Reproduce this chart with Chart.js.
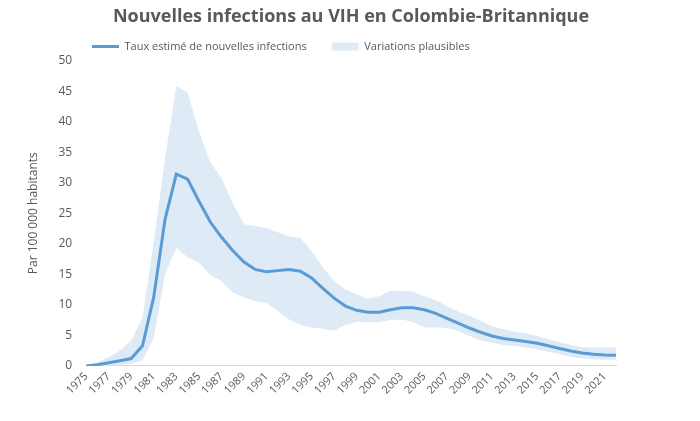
<!DOCTYPE html>
<html>
<head>
<meta charset="utf-8">
<script src="https://cdn.jsdelivr.net/npm/chart.js@4.4.0/dist/chart.umd.min.js"></script>
<style>
  html, body { margin: 0; padding: 0; background: #fff; }
  #wrap { width: 700px; height: 421px; }
</style>
</head>
<body>
<div id="wrap"><canvas id="hivChart"></canvas></div>
<script>
const years = [];
for (let y = 1975; y <= 2022; y++) years.push(String(y));

// estimated rate per 100 000
const rate = [
  0, 0.2, 0.5, 0.85, 1.2, 3.3, 11.3, 24, 31.4, 30.6,
  27, 23.6, 21.1, 18.9, 17.0, 15.8, 15.4, 15.6, 15.8, 15.5,
  14.4, 12.7, 11.1, 9.8, 9.1, 8.8, 8.8, 9.2, 9.5, 9.5,
  9.2, 8.6, 7.8, 7.0, 6.2, 5.5, 4.9, 4.5, 4.25, 4.0,
  3.7, 3.3, 2.85, 2.45, 2.1, 1.9, 1.8, 1.75
];
// plausible range
const upper = [
  0.1, 0.6, 1.4, 2.5, 4.1, 7.9, 20.4, 34, 45.8, 44.8,
  38.4, 33.4, 30.8, 26.7, 23.2, 22.9, 22.6, 21.9, 21.2, 21.0,
  18.8, 16.1, 13.9, 12.5, 11.7, 11.0, 11.4, 12.3, 12.3, 12.2,
  11.4, 10.8, 9.8, 8.9, 8.2, 7.4, 6.5, 6.0, 5.6, 5.4,
  4.9, 4.4, 3.9, 3.4, 3.1, 3.0, 3.0, 3.0
];
const lower = [
  0, 0, 0.1, 0.2, 0.3, 0.9, 4.6, 15, 19.3, 17.8,
  16.9, 14.9, 13.9, 12, 11.2, 10.6, 10.3, 9, 7.6, 6.7,
  6.3, 6.1, 5.8, 6.7, 7.2, 7.2, 7.2, 7.5, 7.6, 7.2,
  6.3, 6.3, 6.2, 5.7, 4.9, 4.2, 3.8, 3.4, 3.2, 3.0,
  2.7, 2.3, 1.9, 1.5, 1.25, 1.1, 1.0, 1.0
];

const lineBlue = "#5b9bd5";
const bandBlue = "#deebf7";
const grey = "#595959";

// nudge title and legend to where they sit in the original
const placeBlocks = {
  id: "placeBlocks",
  afterLayout(chart) {
    const lg = chart.legend;
    const dx = 67 - lg.left;
    lg.left += dx;
    lg.right += dx;
    lg.top = 16;
    lg.bottom = 60; // only used for clipping when drawing
    const t = chart.titleBlock;
    t.left += 32;
    t.right += 32;
  }
};

const chartconfig = {
  type: "line",
  data: {
    labels: years,
    datasets: [
      {
        label: "Taux estimé de nouvelles infections",
        data: rate,
        borderColor: lineBlue,
        backgroundColor: lineBlue,
        borderWidth: 3,
        pointRadius: 0,
        pointStyle: "line",
        tension: 0,
        fill: false
      },
      {
        label: "Variations plausibles",
        data: upper,
        borderWidth: 0,
        borderColor: bandBlue,
        backgroundColor: bandBlue,
        pointRadius: 0,
        pointStyle: "rect",
        fill: "+1"
      },
      {
        label: "lower",
        data: lower,
        borderWidth: 0,
        borderColor: bandBlue,
        backgroundColor: bandBlue,
        pointRadius: 0,
        fill: false
      }
    ]
  },
  options: {
    responsive: true,
    maintainAspectRatio: false,
    animation: false,
    layout: { padding: { left: 22, right: 84, top: 4, bottom: 20 } },
    plugins: {
      title: {
        display: true,
        text: "Nouvelles infections au VIH en Colombie-Britannique",
        color: grey,
        font: { family: "Open Sans", size: 18, weight: "bold" },
        padding: { top: 2, bottom: 6 }
      },
      legend: {
        display: true,
        align: "start",
        maxHeight: 27,
        labels: {
          filter: (item) => item.datasetIndex !== 2,
          usePointStyle: true,
          pointStyleWidth: 27,
          boxHeight: 8,
          padding: 25,
          color: grey,
          font: { family: "Open Sans", size: 11 }
        }
      },
      tooltip: { enabled: false }
    },
    scales: {
      x: {
        offset: false,
        grid: { display: false, drawTicks: false },
        border: { color: "#d9d9d9" },
        ticks: {
          autoSkip: false,
          maxRotation: 45,
          minRotation: 45,
          color: grey,
          padding: 4,
          font: { family: "Open Sans", size: 11 },
          callback: function (val, i) {
            return i % 2 === 0 ? this.getLabelForValue(val) : "";
          }
        }
      },
      y: {
        min: 0,
        max: 50,
        grid: { display: false, drawTicks: false },
        border: { display: false },
        ticks: {
          stepSize: 5,
          color: grey,
          padding: 14,
          font: { family: "Open Sans", size: 12 }
        },
        title: {
          display: true,
          text: "Par 100 000 habitants",
          color: grey,
          font: { family: "Open Sans", size: 12 }
        }
      }
    }
  },
  plugins: [placeBlocks]
};

const ctx = document.getElementById("hivChart").getContext("2d");
const myChart = new Chart(ctx, chartconfig);
</script>
</body>
</html>
